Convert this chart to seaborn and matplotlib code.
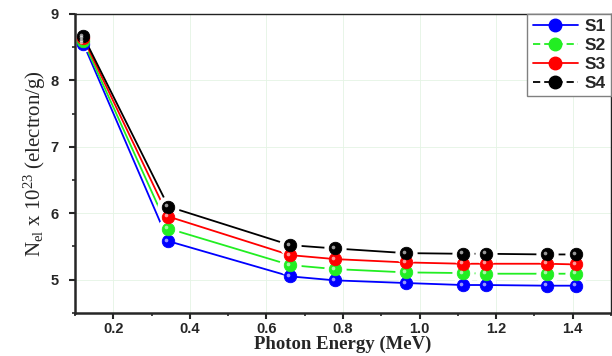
import numpy as np
import pandas as pd
import seaborn as sns
import matplotlib
matplotlib.use("Agg")
import matplotlib.pyplot as plt
from matplotlib.ticker import MultipleLocator
from matplotlib.transforms import offset_copy

# photon energies (MeV)
energy = [0.122, 0.344, 0.662, 0.779, 0.964, 1.112, 1.173, 1.332, 1.408]

# electron density N_el x 10^23 (electron/g)
s1 = [8.55, 5.58, 5.05, 4.99, 4.95, 4.92, 4.92, 4.91, 4.91]
s2 = [8.59, 5.77, 5.22, 5.16, 5.11, 5.10, 5.09, 5.09, 5.09]
s3 = [8.63, 5.95, 5.37, 5.31, 5.26, 5.24, 5.24, 5.24, 5.23]
s4 = [8.66, 6.10, 5.52, 5.47, 5.40, 5.39, 5.39, 5.38, 5.38]

names = ["S1", "S2", "S3", "S4"]
colors = ["#0000ff", "#22ee22", "#ff0000", "#000000"]
gap = [False, True, False, True]

df = pd.DataFrame({"energy": energy * 4,
                   "value": s1 + s2 + s3 + s4,
                   "sample": [n for n in names for _ in energy]})

sns.set_style("ticks")
plt.rcParams["mathtext.fontset"] = "custom"
plt.rcParams["mathtext.rm"] = "Liberation Serif"
plt.rcParams["mathtext.it"] = "Liberation Serif"

fig = plt.figure(figsize=(6.12, 3.56), dpi=100)
ax = fig.add_axes([0.1225, 0.121, 0.876, 0.84])

# lines (series with a gap around the symbols get white knock-out markers)
for name, c, g in zip(names, colors, gap):
    sub = df[df["sample"] == name]
    if g:
        sns.lineplot(data=sub, x="energy", y="value", ax=ax, color=c, lw=1.3,
                     marker="o", markersize=16, markerfacecolor="white",
                     markeredgecolor="white", markeredgewidth=0, zorder=2)
    else:
        sns.lineplot(data=sub, x="energy", y="value", ax=ax, color=c, lw=1.3, zorder=2)

# symbols with a small shine
shine = offset_copy(ax.transData, fig=fig, x=-2, y=1.5, units="dots")
for name, c in zip(names, colors):
    sub = df[df["sample"] == name]
    sns.lineplot(data=sub, x="energy", y="value", ax=ax, color=c, lw=0,
                 marker="o", markersize=9, markeredgecolor=c, markeredgewidth=0.6,
                 zorder=3)
    sns.scatterplot(data=sub, x="energy", y="value", ax=ax, color="white",
                    s=7, alpha=0.6, linewidth=0, zorder=4)
    ax.collections[-1].set_offset_transform(shine)

# legend handles
handles = []
for name, c, g in zip(names, colors, gap):
    h, = ax.plot([], [], color=c, lw=1.3, ls=(0, (4, 2.2)) if g else "-",
                 marker="o", markersize=9, markeredgecolor=c)
    handles.append(h)
leg = ax.legend(handles, names, loc="upper right", borderaxespad=0,
                fancybox=False, framealpha=1, edgecolor="#808080",
                handlelength=2.6, handletextpad=0.4, labelspacing=0.22,
                borderpad=0.3,
                prop={"family": "Liberation Sans", "weight": "bold", "size": 12.5})
leg.get_frame().set_linewidth(1.0)

ax.set_xlim(0.1, 1.5)
ax.set_ylim(4.5, 9)
ax.xaxis.set_major_locator(MultipleLocator(0.2))
ax.xaxis.set_minor_locator(MultipleLocator(0.1))
ax.yaxis.set_major_locator(MultipleLocator(1))
ax.yaxis.set_minor_locator(MultipleLocator(0.5))
ax.grid(True, which="major", color="#e4f4e4", lw=0.6)
ax.set_axisbelow(True)

ax.tick_params(which="major", length=4.5, width=1.5, direction="out")
ax.tick_params(which="minor", length=2.5, width=1.2, direction="out")
xt = [0.2, 0.4, 0.6, 0.8, 1.0, 1.2, 1.4]
ax.set_xticks(xt)
ax.set_xticklabels([f"{t:.1f}" for t in xt],
                   fontfamily="Liberation Sans", fontweight="bold", fontsize=10.5)
ax.set_yticks([5, 6, 7, 8, 9])
ax.set_yticklabels(["5", "6", "7", "8", "9"],
                   fontfamily="Liberation Sans", fontweight="bold", fontsize=10.5)
ax.tick_params(axis="y", pad=7)
ax.tick_params(axis="x", pad=2)
ax.set_xlim(0.1, 1.5)
ax.set_ylim(4.5, 9)

for s in ["left", "bottom"]:
    ax.spines[s].set_linewidth(1.8)
for s in ["top", "right"]:
    ax.spines[s].set_linewidth(1.0)
    ax.spines[s].set_color("#222222")

ax.set_xlabel("Photon Energy (MeV)", fontfamily="Liberation Serif",
              fontweight="bold", fontsize=13.5, labelpad=0)
ax.set_ylabel(r"N$_{\mathrm{el}}$ x 10$^{\mathrm{23}}$ (electron/g)",
              fontfamily="Liberation Serif", fontsize=15, labelpad=2)

fig.savefig("out.png", dpi=100)
